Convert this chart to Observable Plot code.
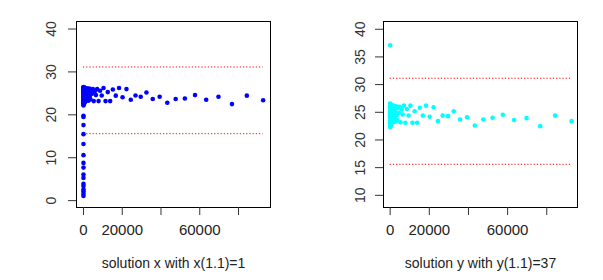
<!DOCTYPE html>
<html>
<head>
<meta charset="utf-8">
<script src="https://cdn.jsdelivr.net/npm/d3@7"></script>
<script src="https://cdn.jsdelivr.net/npm/@observablehq/plot@0.6"></script>
<style>
  html, body { margin: 0; padding: 0; background: #fff; }
  #wrap { display: flex; width: 603px; height: 280px; }
</style>
</head>
<body>
<div id="wrap"></div>
<script>
// x positions of the 121 solution points (iterate index values)
const xs = [
  1, 1.1, 1.21, 1.33, 1.46, 1.61, 1.77, 1.95, 2.14, 2.36,
  2.59, 2.85, 3.14, 3.45, 3.80, 4.18, 4.59, 5.05, 5.56, 6.12,
  6.73, 7.40, 8.14, 8.95, 9.85, 10.8, 11.9, 13.1, 14.4, 15.9,
  17.4, 19.2, 21.1, 23.2, 25.5, 28.1, 30.9, 34.0, 37.4, 41.1,
  45.3, 49.8, 54.8, 60.2, 66.3, 72.9, 80.2, 88.2, 97.0, 107,
  117, 129, 142, 156, 172, 189, 208, 229, 252, 277,
  304, 335, 368, 405, 446, 490, 539, 593, 653, 718,
  790, 869, 956, 1051, 1156, 1272, 1399, 1539, 1693, 1862,
  2048, 2253, 2479, 2726, 2999, 3299, 3629, 3992, 4391, 4830,
  5313, 5844, 6429, 7072, 7779, 8557, 9413, 10354, 11389, 12528,
  13781, 15159, 16675, 18342, 20176, 22194, 24413, 26855, 29540, 32494,
  35744, 39318, 43250, 47575, 52332, 57566, 63322, 69654, 76620, 84282,
  92710
];

// left panel: solution x with x(1.1)=1
const solX = [
  1.1, 1.6, 2.1, 2.6, 3.4, 3.9, 5.3, 6.1, 7.7, 8.8,
  10.6, 13.2, 15.5, 17.6, 19.5, 19.8, 22.2,
  22.6, 26.4, 23.0, 25.9, 24.1, 26.2, 22.9, 25.4, 24.6, 23.5, 26.1, 22.4, 25.0, 24.3, 26.5, 23.2, 25.7, 23.9, 24.8, 22.7,
  26.0, 24.4, 23.4, 25.5, 22.5, 26.3, 24.0, 25.2, 23.1, 24.9, 26.2, 23.7, 25.6, 22.8, 24.5, 25.9, 23.3, 26.4, 24.2, 25.1,
  22.6, 25.8, 23.6, 24.7, 26.1, 23.0, 25.3, 24.0, 26.3, 23.4, 25.0, 24.6, 22.9, 25.7, 23.8, 26.0, 24.3, 25.4, 23.2, 25.9,
  24.8, 23.5, 26.2, 24.1, 25.6, 23.3, 25.0, 26.1, 24.4, 23.6, 25.8, 24.9, 26.0, 23.2, 25.5, 24.6,
  26.0, 23.2, 25.6, 24.5, 26.25, 23.2, 25.3, 23.2, 25.9, 24.47,
  26.25, 24.1, 26.0, 23.5, 24.5, 24.2, 25.2, 23.7, 24.2, 22.8,
  23.7, 23.8, 24.6, 23.5, 24.2, 22.5, 24.47, 23.4
];

// right panel: solution y with y(1.1)=37
const solY = [
  37.1,
  24.9, 22.4, 26.6, 23.8, 25.3, 22.7, 26.0, 24.2, 25.6, 23.1, 24.6, 26.3, 22.9, 25.1, 23.6, 24.4,
  22.6, 26.4, 23.0, 25.9, 24.1, 26.2, 22.9, 25.4, 24.6, 23.5, 26.1, 22.4, 25.0, 24.3, 26.5, 23.2, 25.7, 23.9, 24.8, 22.7,
  26.0, 24.4, 23.4, 25.5, 22.5, 26.3, 24.0, 25.2, 23.1, 24.9, 26.2, 23.7, 25.6, 22.8, 24.5, 25.9, 23.3, 26.4, 24.2, 25.1,
  22.6, 25.8, 23.6, 24.7, 26.1, 23.0, 25.3, 24.0, 26.3, 23.4, 25.0, 24.6, 22.9, 25.7, 23.8, 26.0, 24.3, 25.4, 23.2, 25.9,
  24.8, 23.5, 26.2, 24.1, 25.6, 23.3, 25.0, 26.1, 24.4, 23.6, 25.8, 24.9, 26.0, 23.2, 25.5, 24.6,
  26.2, 23.1, 25.6, 24.4, 26.2, 23.1, 25.2, 23.1, 25.8, 24.4,
  26.2, 24.2, 25.9, 23.4, 24.4, 24.3, 25.2, 23.7, 24.1, 22.6,
  23.7, 24.0, 24.55, 23.6, 23.95, 22.5, 24.4, 23.4
];

// reference bounds (dotted red lines)
const bounds = [31.15, 15.6];
const boundXStart = 1;
const boundXEnd = 92710;

const xTicks = [0, 20000, 40000, 60000, 80000];
const xTickLabels = ["0", "20000", "", "60000", ""];
const yTicksLeft = [0, 10, 20, 30, 40];
const yTicksRight = [10, 15, 20, 25, 30, 35, 40];

const captions = ["solution x with x(1.1)=1", "solution y with y(1.1)=37"];
const colors = ["#0000ff", "#00ffff"];

function panel({ys, color, caption, width, marginLeft, marginRight, xDomain, yDomain, yTicks, yLabelDx}) {
  const data = xs.map((x, i) => ({x, y: ys[i]}));
  return Plot.plot({
    width, height: 280,
    marginLeft, marginRight, marginTop: 21, marginBottom: 73,
    style: {fontFamily: "'Liberation Sans', Arial, sans-serif", fontSize: "14px", color: "#222", background: "#fff"},
    x: {domain: xDomain},
    y: {domain: yDomain},
    marks: [
      Plot.ruleY(bounds, {x1: boundXStart, x2: boundXEnd, stroke: "#ff0000", strokeWidth: 1, strokeDasharray: "1.2,2"}),
      Plot.dot(data, {x: "x", y: "y", r: 2.3, fill: color, stroke: "none"}),
      Plot.frame({stroke: "#000", strokeWidth: 1}),
      Plot.axisX({ticks: xTicks, tickSize: 8, tickPadding: 9, stroke: "#333",
        tickFormat: d => xTickLabels[xTicks.indexOf(d)], fontSize: 15, label: null, fill: "#222"}),
      Plot.axisY({ticks: yTicks, tickSize: 8, stroke: "#333", tickFormat: () => "", label: null}),
      Plot.text(yTicks, {y: d => d, text: d => String(d), frameAnchor: "left", dx: yLabelDx,
        rotate: -90, textAnchor: "middle", fontSize: 14, fill: "#333"}),
      Plot.text([caption], {frameAnchor: "bottom", dy: 56, text: d => d, fontSize: 14, fill: "#222", lineAnchor: "middle"})
    ]
  });
}

const wrap = document.getElementById("wrap");
wrap.append(panel({ys: solX, color: colors[0], caption: captions[0], width: 301,
  marginLeft: 76, marginRight: 31, xDomain: [-3600, 96500], yDomain: [-1.6, 41.75], yTicks: yTicksLeft, yLabelDx: -25}));
wrap.append(panel({ys: solY, color: colors[1], caption: captions[1], width: 302,
  marginLeft: 82, marginRight: 26, xDomain: [-3400, 95700], yDomain: [7.8, 41.4], yTicks: yTicksRight, yLabelDx: -23}));
</script>
</body>
</html>
